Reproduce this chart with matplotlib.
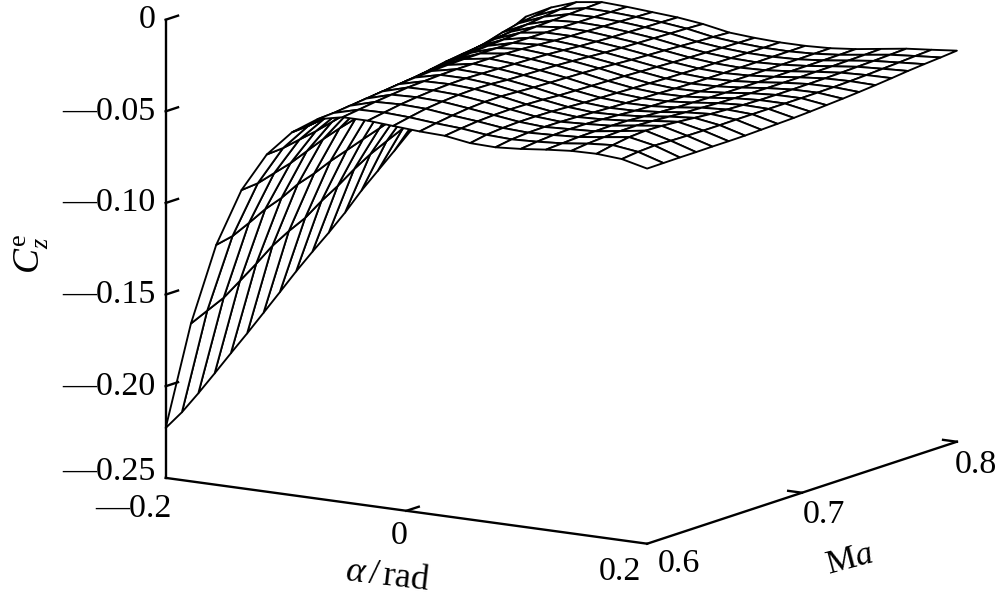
import numpy as np
import matplotlib
matplotlib.use("Agg")
import matplotlib.pyplot as plt

plt.rcParams['font.family'] = ['Liberation Serif', 'DejaVu Serif']
plt.rcParams['mathtext.fontset'] = 'custom'
plt.rcParams['mathtext.rm'] = 'Liberation Serif'
plt.rcParams['mathtext.it'] = 'Liberation Serif:italic'

alpha = [-0.2, -0.179, -0.158, -0.137, -0.116, -0.095, -0.074, -0.053, -0.032, -0.011,
         0.011, 0.032, 0.053, 0.074, 0.095, 0.116, 0.137, 0.158, 0.179, 0.2]
mach = [0.6, 0.6105, 0.6211, 0.6316, 0.6421, 0.6526, 0.6632, 0.6737, 0.6842, 0.6947,
        0.7053, 0.7158, 0.7263, 0.7368, 0.7474, 0.7579, 0.7684, 0.7789, 0.7895, 0.8]

# one row per alpha, one column per Mach
cz = [
    [-.2228, -.2171, -.2097, -.2018, -.1937, -.1858, -.1775, -.1692, -.1608, -.1530, -.1455, -.1375, -.1285, -.1207, -.1128, -.1048, -.0968, -.0890, -.0810, -.0730],
    [-.1639, -.1598, -.1557, -.1494, -.1430, -.1361, -.1310, -.1268, -.1205, -.1152, -.1090, -.1037, -.0995, -.0955, -.0911, -.0866, -.0815, -.0760, -.0695, -.0630],
    [-.1191, -.1172, -.1130, -.1084, -.1052, -.1006, -.0977, -.0939, -.0909, -.0878, -.0848, -.0818, -.0787, -.0756, -.0726, -.0695, -.0659, -.0619, -.0571, -.0502],
    [-.0873, -.0865, -.0839, -.0814, -.0778, -.0742, -.0712, -.0687, -.0661, -.0635, -.0618, -.0592, -.0572, -.0547, -.0526, -.0508, -.0482, -.0461, -.0450, -.0433],
    [-.0660, -.0654, -.0637, -.0621, -.0599, -.0578, -.0557, -.0540, -.0524, -.0507, -.0491, -.0475, -.0463, -.0452, -.0440, -.0429, -.0418, -.0406, -.0395, -.0385],
    [-.0520, -.0514, -.0502, -.0491, -.0479, -.0468, -.0457, -.0445, -.0434, -.0424, -.0416, -.0408, -.0400, -.0394, -.0387, -.0382, -.0378, -.0373, -.0370, -.0366],
    [-.0430, -.0425, -.0415, -.0405, -.0395, -.0385, -.0378, -.0372, -.0368, -.0365, -.0364, -.0364, -.0365, -.0366, -.0367, -.0368, -.0369, -.0370, -.0372, -.0373],
    [-.0400, -.0388, -.0375, -.0365, -.0355, -.0350, -.0345, -.0343, -.0343, -.0344, -.0346, -.0350, -.0356, -.0363, -.0367, -.0370, -.0373, -.0376, -.0380, -.0383],
    [-.0400, -.0385, -.0370, -.0360, -.0352, -.0347, -.0345, -.0348, -.0351, -.0354, -.0357, -.0361, -.0367, -.0374, -.0379, -.0383, -.0385, -.0388, -.0390, -.0393],
    [-.0410, -.0392, -.0375, -.0365, -.0358, -.0355, -.0357, -.0364, -.0367, -.0370, -.0373, -.0378, -.0384, -.0390, -.0394, -.0397, -.0400, -.0403, -.0406, -.0410],
    [-.0420, -.0405, -.0392, -.0382, -.0376, -.0375, -.0380, -.0385, -.0388, -.0391, -.0394, -.0398, -.0404, -.0410, -.0414, -.0418, -.0423, -.0428, -.0432, -.0437],
    [-.0425, -.0414, -.0405, -.0400, -.0398, -.0400, -.0404, -.0410, -.0413, -.0416, -.0419, -.0422, -.0426, -.0430, -.0434, -.0437, -.0440, -.0443, -.0445, -.0447],
    [-.0446, -.0430, -.0422, -.0418, -.0418, -.0420, -.0425, -.0430, -.0433, -.0436, -.0439, -.0442, -.0445, -.0447, -.0449, -.0450, -.0451, -.0452, -.0453, -.0453],
    [-.0450, -.0436, -.0429, -.0427, -.0428, -.0431, -.0436, -.0440, -.0443, -.0446, -.0449, -.0452, -.0454, -.0455, -.0455, -.0455, -.0455, -.0454, -.0454, -.0453],
    [-.0440, -.0430, -.0423, -.0420, -.0421, -.0425, -.0431, -.0437, -.0441, -.0444, -.0447, -.0449, -.0450, -.0450, -.0450, -.0450, -.0449, -.0449, -.0448, -.0447],
    [-.0425, -.0420, -.0415, -.0413, -.0412, -.0414, -.0420, -.0425, -.0429, -.0432, -.0435, -.0437, -.0438, -.0438, -.0438, -.0437, -.0437, -.0436, -.0435, -.0433],
    [-.0413, -.0403, -.0397, -.0393, -.0392, -.0396, -.0402, -.0408, -.0412, -.0416, -.0419, -.0421, -.0422, -.0422, -.0422, -.0421, -.0420, -.0418, -.0416, -.0413],
    [-.0410, -.0392, -.0378, -.0372, -.0375, -.0382, -.0390, -.0398, -.0403, -.0407, -.0410, -.0411, -.0411, -.0410, -.0409, -.0407, -.0404, -.0401, -.0397, -.0393],
    [-.0420, -.0410, -.0405, -.0408, -.0410, -.0411, -.0411, -.0410, -.0410, -.0410, -.0410, -.0410, -.0409, -.0408, -.0405, -.0401, -.0396, -.0391, -.0385, -.0380],
    [-.0453, -.0452, -.0451, -.0451, -.0450, -.0450, -.0449, -.0446, -.0443, -.0440, -.0435, -.0429, -.0423, -.0416, -.0408, -.0399, -.0389, -.0381, -.0374, -.0366],
]

z_ticks = [-0.25, -0.20, -0.15, -0.10, -0.05, 0]
z_tick_labels = ['\u20140.25', '\u20140.20', '\u20140.15', '\u20140.10', '\u20140.05', '0']


def put(fig, px, py, s, **kw):
    # text placed in reference pixels
    fig.text(px / 1000, 1 - py / 604, s, **kw)


def main():
    fig = plt.figure(figsize=(10, 6.04), dpi=100, facecolor='white')
    side = 908
    left, bottom = 95, -93
    ax = fig.add_axes([left / 1000, bottom / 604, side / 1000, side / 604],
                      projection='3d', computed_zorder=False)
    ax.set_proj_type('ortho')
    ax.view_init(elev=12.25, azim=-57.2)
    ax.set_box_aspect((573, 572, 469))
    ax.set_xlim(-0.2, 0.2, view_margin=0)
    ax.set_ylim(0.6, 0.8, view_margin=0)
    ax.set_zlim(-0.25, 0, view_margin=0)
    ax.set_axis_off()

    A, M = np.meshgrid(alpha, mach, indexing='ij')
    Z = np.array(cz)
    ax.plot_surface(A, M, Z, rstride=1, cstride=1, color='white', edgecolor='black',
                    linewidth=1.35, shade=False, zorder=1)

    # axis box edges
    axis_kw = dict(color='black', lw=1.7, solid_capstyle='projecting', zorder=2)
    ax.plot([-0.2, -0.2], [0.6, 0.6], [-0.25, 0], **axis_kw)
    ax.plot([-0.2, 0.2], [0.6, 0.6], [-0.25, -0.25], **axis_kw)
    ax.plot([0.2, 0.2], [0.6, 0.8], [-0.25, -0.25], **axis_kw)

    # ticks follow the box directions like in MATLAB
    for z in z_ticks[1:]:
        ax.plot([-0.2, -0.2], [0.6, 0.608], [z, z], **axis_kw)
    ax.plot([0, 0], [0.6, 0.608], [-0.25, -0.25], **axis_kw)
    for m in [0.7, 0.8]:
        ax.plot([0.2, 0.1885], [m, m], [-0.25, -0.25], **axis_kw)

    fs = 24.5
    zy = [472, 387, 295, 203, 112, 20]
    for y, s in zip(zy, z_tick_labels):
        put(fig, 156, y, s, ha='right', va='center', fontsize=fs)
    put(fig, 172, 509, '\u20140.2', ha='right', va='center', fontsize=fs)
    put(fig, 399, 536, '0', ha='center', va='center', fontsize=fs)
    put(fig, 620, 572, '0.2', ha='center', va='center', fontsize=fs)
    put(fig, 679, 564, '0.6', ha='center', va='center', fontsize=fs)
    put(fig, 824, 515, '0.7', ha='center', va='center', fontsize=fs)
    put(fig, 976, 465, '0.8', ha='center', va='center', fontsize=fs)

    put(fig, 388, 577, r'$\alpha\,/\,$rad', ha='center', va='center', fontsize=26,
        rotation=-6.7, rotation_mode='anchor')
    put(fig, 850, 560, r'M$a$', ha='center', va='center', fontsize=fs,
        rotation=15, rotation_mode='anchor')
    put(fig, 32, 254, r'$C_z^{\mathrm{e}}$', ha='center', va='center', fontsize=27,
        rotation=90)

    fig.savefig('out.png', dpi=100)


if __name__ == "__main__":
    main()
